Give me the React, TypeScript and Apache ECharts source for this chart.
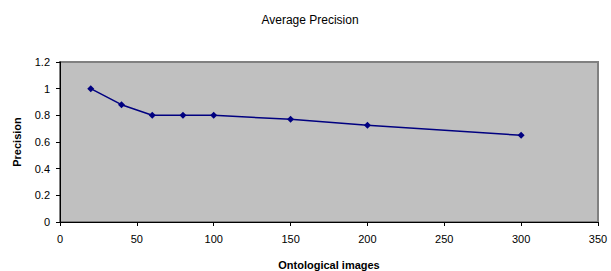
import React, { useEffect, useRef } from "react";
import * as echarts from "echarts";

const xValues = [20, 40, 60, 80, 100, 150, 200, 300];
const precision = [1.0, 0.88, 0.8, 0.8, 0.8, 0.77, 0.725, 0.65];
const titleText = "Average Precision";
const xName = "Ontological images";
const yName = "Precision";

export default function App() {
  const ref = useRef<HTMLDivElement>(null);
  useEffect(() => {
    document.body.style.margin = "0";
    if (!ref.current) return;
    const chart = echarts.init(ref.current, null, { renderer: "svg" });
    const font = "Arial, 'Liberation Sans', sans-serif";
    chart.setOption({
      animation: false,
      backgroundColor: "#ffffff",
      title: {
        text: titleText,
        left: 305,
        textAlign: "center",
        top: 9,
        textStyle: { fontSize: 12, fontWeight: "normal", color: "#000", fontFamily: font },
      },
      grid: {
        left: 60,
        right: 13,
        top: 62,
        bottom: 49,
        outerBoundsMode: "none",
        containLabel: false,
        show: true,
        backgroundColor: "#c0c0c0",
        borderColor: "#808080",
        borderWidth: 2,
      },
      xAxis: {
        type: "value",
        min: 0,
        max: 350,
        interval: 50,
        name: xName,
        nameLocation: "middle",
        nameGap: 37,
        nameTextStyle: { fontSize: 11, fontWeight: "bold", color: "#000", fontFamily: font },
        axisLine: { show: true, onZero: false, lineStyle: { color: "#000", width: 1 } },
        axisTick: { show: true, length: 4, lineStyle: { color: "#000" } },
        axisLabel: { fontSize: 11, color: "#000", fontFamily: font, margin: 11 },
        splitLine: { show: false },
      },
      yAxis: {
        type: "value",
        min: 0,
        max: 1.2,
        interval: 0.2,
        name: yName,
        nameLocation: "middle",
        nameGap: 38,
        nameTextStyle: { fontSize: 11, fontWeight: "bold", color: "#000", fontFamily: font },
        axisLine: { show: true, lineStyle: { color: "#000", width: 1 } },
        axisTick: { show: true, length: 4, lineStyle: { color: "#000" } },
        axisLabel: {
          fontSize: 11,
          color: "#000",
          fontFamily: font,
          margin: 10,
          formatter: (v: number) => String(Math.round(v * 10) / 10),
        },
        splitLine: { show: false },
      },
      series: [
        {
          type: "line",
          data: xValues.map((x, i) => [x, precision[i]]),
          symbol: "diamond",
          symbolSize: 7,
          lineStyle: { color: "#000080", width: 1.5 },
          itemStyle: { color: "#000080" },
        },
      ],
    });
    return () => chart.dispose();
  }, []);
  return <div ref={ref} style={{ width: 611, height: 271 }} />;
}
